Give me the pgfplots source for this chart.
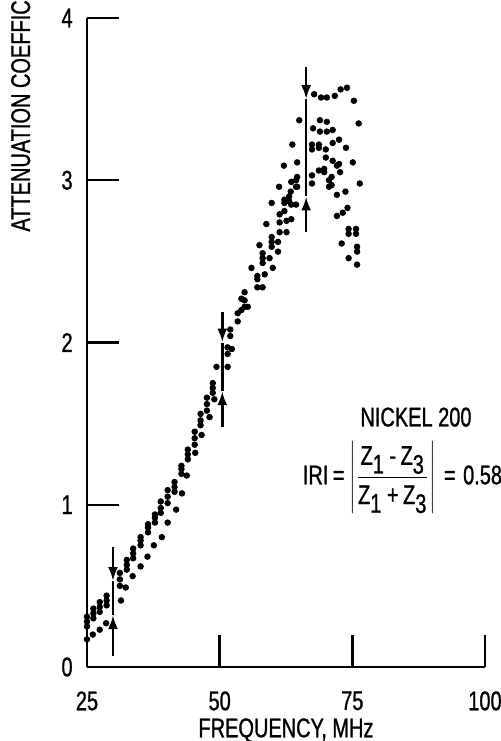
\documentclass[border=0pt]{standalone}
\usepackage{fontspec}
\setmainfont{Liberation Sans}[FakeStretch=0.74,FakeBold=1.0]
\usepackage{pgfplots}
\pgfplotsset{compat=1.18}
\usetikzlibrary{arrows.meta}
\newcommand{\lf}{\fontsize{13.5}{16}\selectfont}
\begin{document}
\lf
\begin{tikzpicture}
\path[use as bounding box] (-43.5pt,-37pt) rectangle (206.5pt,333.5pt);
\begin{axis}[
  at={(0,0)}, anchor=south west,
  scale only axis, width=199pt, height=324.5pt,
  xmin=25, xmax=100, ymin=0, ymax=4,
  axis lines*=left,
  axis line style={line width=1.2pt},
  tick style={line width=1.2pt, black},
  tick align=inside,
  major tick length=16pt,
  xtick={25,50,75,100}, ytick={0,1,2,3,4},
  /pgf/number format/assume math mode=true,
  ticklabel style={font=\lf},
  xticklabel style={yshift=-7.5pt},
  yticklabel style={xshift=-2.5pt},
  xlabel={FREQUENCY, MHz},
  xlabel style={at={(axis description cs:0.5,-0.0786)}, anchor=north, inner sep=0pt, font=\lf},
  ylabel={ATTENUATION COEFFICIENT, dB/$\mu$sec},
  ylabel style={at={(axis description cs:-0.1608,0.6703)}, anchor=west, inner sep=0pt, font=\lf},
  clip=false,
]
\addplot[only marks, mark=*, mark size=1.4pt, black] table {
x y
25.0 0.25
25.0 0.28
25.0 0.31
25.0 0.17
26.2 0.30
26.2 0.33
26.2 0.36
26.1 0.20
27.4 0.34
27.4 0.37
27.4 0.40
27.4 0.23
28.7 0.38
28.7 0.41
28.7 0.44
28.6 0.27
31.2 0.50
31.2 0.54
31.2 0.58
31.4 0.41
32.5 0.60
32.5 0.63
32.5 0.66
32.3 0.49
33.7 0.67
33.7 0.70
33.7 0.73
33.6 0.56
35.1 0.75
35.1 0.78
35.1 0.80
35.1 0.62
36.5 0.83
36.5 0.86
36.5 0.88
36.4 0.68
37.8 0.89
37.8 0.92
37.8 0.94
37.6 0.75
38.9 0.95
38.9 0.98
38.9 1.02
39.1 0.80
40.2 1.01
40.2 1.05
40.2 1.09
40.2 0.89
41.5 1.08
41.5 1.11
41.5 1.14
41.8 0.97
42.8 1.19
42.8 1.22
42.8 1.24
42.9 1.07
44.0 1.28
44.0 1.31
44.0 1.34
43.8 1.18
45.3 1.37
45.3 1.41
45.3 1.45
45.4 1.32
46.4 1.49
46.4 1.52
46.4 1.56
46.6 1.43
47.6 1.58
47.6 1.62
47.6 1.66
48.1 1.54
48.7 1.69
48.7 1.72
48.7 1.75
49.0 1.65
49.4 1.85
51.5 1.85
51.5 1.93
51.5 1.97
52.0 2.04
52.0 2.08
52.3 1.96
53.4 2.13
53.4 2.18
54.1 2.20
54.1 2.27
54.7 2.22
54.7 2.26
54.7 2.31
55.3 2.22
56.0 2.46
57.1 2.34
57.1 2.39
57.1 2.41
57.5 2.60
58.1 2.34
58.1 2.49
58.1 2.52
58.1 2.55
58.5 2.42
58.8 2.73
59.4 2.52
59.8 2.59
59.8 2.62
59.8 2.65
59.8 2.86
60.0 2.46
61.0 2.56
61.0 2.62
61.2 2.96
61.3 2.68
61.3 2.74
61.3 2.79
62.1 3.09
62.2 2.81
62.2 2.86
62.2 2.88
62.6 2.68
62.6 2.75
63.1 2.87
63.1 2.90
63.4 2.93
63.5 2.76
63.5 2.85
63.5 2.99
63.7 3.22
64.4 2.85
64.4 2.96
64.4 3.00
64.6 2.96
64.6 3.02
64.6 3.11
65.0 3.37
67.4 2.98
67.4 3.03
67.4 3.19
67.4 3.22
67.6 3.32
67.8 3.53
68.7 3.06
68.7 3.20
68.7 3.22
68.9 3.30
68.9 3.37
69.1 3.51
69.7 3.05
69.7 3.07
70.0 3.14
70.0 3.19
70.2 3.30
70.2 3.36
70.2 3.51
70.6 2.96
70.6 3.00
71.1 2.97
71.1 3.02
71.3 3.12
71.3 3.23
71.3 3.31
71.7 3.52
72.1 2.78
72.1 2.91
72.1 3.09
72.5 3.10
72.5 3.25
72.7 3.05
72.8 3.56
73.0 2.61
73.2 2.80
73.7 2.93
73.8 3.20
74.0 3.57
74.1 2.83
74.3 2.52
74.3 2.67
74.3 2.70
75.1 3.11
75.3 3.49
75.7 2.67
75.7 2.70
75.9 2.48
75.9 2.56
75.9 2.59
76.2 3.35
76.4 2.98
};
\draw[line width=1.3pt,-{Latex[length=7pt,width=5pt]}] (29.9,0.74) -- (29.9,0.53);
\draw[line width=1.3pt] (29.9,0.53) -- (29.9,0.32);
\draw[line width=1.3pt,-{Latex[length=7pt,width=5pt]}] (29.9,0.07) -- (29.9,0.32);
\draw[line width=1.3pt,-{Latex[length=7pt,width=5pt]}] (50.5,2.19) -- (50.5,2.00);
\draw[line width=1.3pt] (50.5,2.00) -- (50.5,1.70);
\draw[line width=1.3pt,-{Latex[length=7pt,width=5pt]}] (50.5,1.48) -- (50.5,1.70);
\draw[line width=1.3pt,-{Latex[length=7pt,width=5pt]}] (66.3,3.70) -- (66.3,3.50);
\draw[line width=1.3pt] (66.3,3.50) -- (66.3,2.90);
\draw[line width=1.3pt,-{Latex[length=7pt,width=5pt]}] (66.3,2.68) -- (66.3,2.90);
\node[font=\lf] at (87.0,1.54) {NICKEL 200};
\node[font=\lf, anchor=west, inner sep=0pt] at (65.6,1.17)
  {IRI\,=\,$\displaystyle\left|\frac{\mbox{Z}_{\mbox{1}}\mbox{\,-\,}\mbox{Z}_{\mbox{3}}}{\mbox{Z}_{\mbox{1}}\mbox{\,+\,}\mbox{Z}_{\mbox{3}}}\right|$\;=\;0.58};
\end{axis}
\end{tikzpicture}
\end{document}
